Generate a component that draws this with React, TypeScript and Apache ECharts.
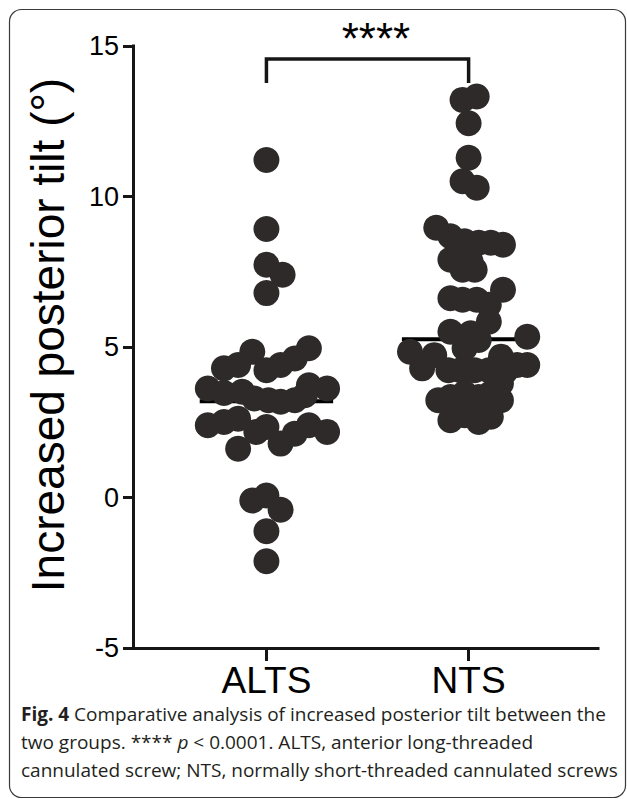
import React, { useEffect, useRef } from "react";
import * as echarts from "echarts";

const categories = ["ALTS", "NTS"];
const yTicks = { min: -5, max: 15, interval: 5 };

// ALTS: values (°) and horizontal swarm offsets (fraction of group spacing)
const altsValues = [11.21, 8.92, 7.73, 7.4, 6.79, 4.84, 4.96, 4.62, 4.4, 4.23, 4.4, 4.29, 3.62, 3.62, 3.73, 3.47, 3.51, 3.29, 3.23, 3.18, 3.23, 3.4, 2.4, 2.51, 2.62, 1.62, 2.18, 2.34, 1.79, 2.12, 2.4, 2.18, 0.07, -0.1, -0.41, -1.12, -2.12];
const altsOffsets = [0, 0, 0, 0.08, 0, -0.07, 0.21, 0.14, 0.07, 0, -0.14, -0.21, -0.29, 0.3, 0.21, -0.21, -0.12, -0.06, 0.01, 0.07, 0.14, 0.19, -0.29, -0.21, -0.14, -0.14, -0.05, 0, 0.07, 0.14, 0.21, 0.3, 0, -0.07, 0.07, 0, 0];

// NTS
const ntsValues = [13.32, 13.21, 12.43, 11.29, 10.51, 10.29, 8.96, 8.68, 8.51, 8.46, 8.46, 8.4, 7.9, 7.84, 7.57, 7.57, 6.9, 6.62, 6.57, 6.57, 6.4, 5.84, 5.51, 5.46, 5.34, 4.96, 5.23, 4.84, 4.73, 4.68, 4.29, 4.23, 4.23, 4.23, 4.23, 4.18, 4.4, 4.4, 3.79, 3.23, 3.34, 3.46, 3.34, 3.46, 3.23, 2.57, 2.73, 2.51, 2.68, 3.07];
const ntsOffsets = [0.04, -0.03, 0, 0, -0.03, 0.04, -0.16, -0.09, -0.02, 0.05, 0.11, 0.17, -0.09, 0.01, -0.03, 0.03, 0.17, -0.09, -0.03, 0.04, 0.1, 0.1, -0.09, 0.01, 0.29, -0.02, 0.05, -0.29, -0.17, 0.16, -0.23, -0.1, -0.04, 0.03, 0.1, 0.18, 0.29, 0.24, 0.16, -0.15, -0.09, -0.02, 0.05, 0.11, 0.16, -0.09, -0.02, 0.05, 0.11, 0];

const means = [3.2, 5.26];
const meanHalfWidth = 0.33;
const bracket = { low: 13.77, high: 14.57, label: "****" };

const yAxisTitle = "Increased posterior tilt (°)";

const DOT = "#2e2a2a";
const AXIS = "#161616";
const SANS = "'Liberation Sans', Arial, sans-serif";

export default function App() {
  const ref = useRef<HTMLDivElement>(null);
  useEffect(() => {
    if (!ref.current) return;
    const chart = echarts.init(ref.current, undefined, { renderer: "svg" });
    const altsData = altsValues.map((v, i) => [1 + altsOffsets[i], v]);
    const ntsData = ntsValues.map((v, i) => [2 + ntsOffsets[i], v]);
    const meanLines = means.map((m, i) => ({
      type: "line",
      data: [[i + 1 - meanHalfWidth, m], [i + 1 + meanHalfWidth, m]],
      symbol: "none",
      lineStyle: { color: "#000", width: 4 },
      z: 1,
      silent: true,
    }));
    chart.setOption({
      animation: false,
      grid: { left: 133, top: 46, width: 465, height: 602, containLabel: false },
      xAxis: {
        type: "value",
        min: 0.34,
        max: 2.64,
        axisLine: { onZero: false, lineStyle: { color: AXIS, width: 3, cap: "square" } },
        axisTick: { customValues: [1, 2], length: 13, lineStyle: { color: AXIS, width: 3 } },
        axisLabel: {
          customValues: [1, 2],
          formatter: (v: number) => categories[Math.round(v) - 1] ?? "",
          color: "#000",
          fontSize: 37,
          lineHeight: 37,
          fontFamily: SANS,
          margin: 14,
        },
        splitLine: { show: false },
      },
      yAxis: {
        type: "value",
        min: yTicks.min,
        max: yTicks.max,
        interval: yTicks.interval,
        name: yAxisTitle,
        nameLocation: "middle",
        nameGap: 62,
        nameTextStyle: { color: "#000", fontSize: 46, fontFamily: SANS, padding: [0, 0, 0, 24] },
        axisLine: { show: true, lineStyle: { color: AXIS, width: 3, cap: "square" } },
        axisTick: { show: true, length: 10, lineStyle: { color: AXIS, width: 3 } },
        axisLabel: { color: "#000", fontSize: 27, fontFamily: SANS, margin: 14 },
        splitLine: { show: false },
      },
      series: [
        ...meanLines,
        {
          type: "line",
          data: [[1, bracket.low], [1, bracket.high], [2, bracket.high], [2, bracket.low]],
          symbol: "none",
          lineStyle: { color: AXIS, width: 3.5, join: "miter" },
          z: 1,
          silent: true,
        },
        {
          type: "scatter",
          name: categories[0],
          data: altsData,
          symbolSize: 26,
          itemStyle: { color: DOT, opacity: 1 },
          z: 3,
        },
        {
          type: "scatter",
          name: categories[1],
          data: ntsData,
          symbolSize: 26,
          itemStyle: { color: DOT, opacity: 1 },
          z: 3,
        },
      ],
      graphic: [
        {
          type: "rect",
          shape: { x: 9.5, y: 9.5, width: 616, height: 788, r: 12 },
          style: { fill: "none", stroke: "#3a3a3a", lineWidth: 1.2 },
          silent: true,
        },
        {
          type: "text",
          x: 376,
          y: 38,
          style: {
            text: bracket.label,
            font: "44px 'Liberation Sans', Arial, sans-serif",
            fill: "#000",
            align: "center",
            verticalAlign: "middle",
          },
        },
        {
          type: "text",
          x: 21,
          y: 700,
          style: {
            text:
              "{b|Fig. 4} Comparative analysis of increased posterior tilt between the\n" +
              "two groups. **** {i|p} < 0.0001. ALTS, anterior long-threaded\n" +
              "cannulated screw; NTS, normally short-threaded cannulated screws",
            font: "19px 'Open Sans', sans-serif",
            fill: "#231f20",
            lineHeight: 28,
            rich: {
              b: { fontWeight: "bold", fontSize: 19, fontFamily: "'Open Sans', sans-serif", fill: "#231f20", lineHeight: 28 },
              i: { fontStyle: "italic", fontSize: 19, fontFamily: "'Open Sans', sans-serif", fill: "#231f20", lineHeight: 28 },
            },
          },
        },
      ],
    });
    return () => chart.dispose();
  }, []);
  return (
    <div
      ref={ref}
      style={{ position: "absolute", left: 0, top: 0, width: 627, height: 799, background: "#fff" }}
    />
  );
}
